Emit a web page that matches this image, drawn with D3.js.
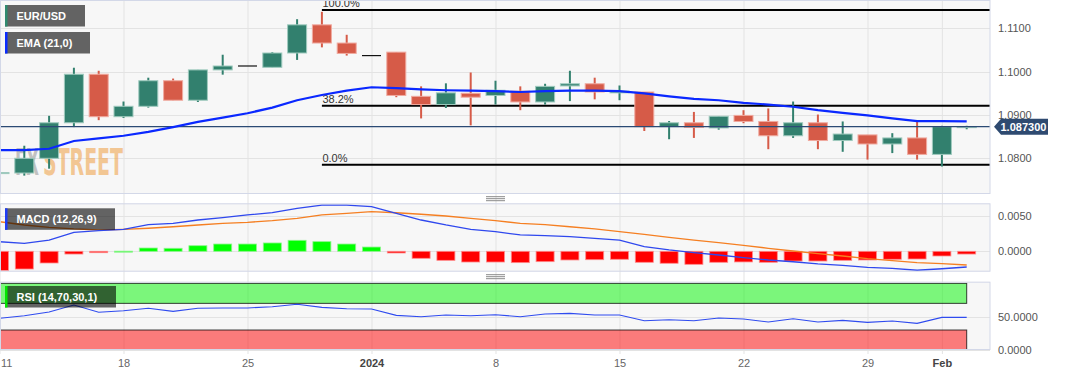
<!DOCTYPE html>
<html>
<head>
<meta charset="utf-8">
<script src="https://cdn.jsdelivr.net/npm/d3@7"></script>
<style>
  body { margin: 0; background: #fff; }
  svg { display: block; font-family: "Liberation Sans", Arial, sans-serif; }
</style>
</head>
<body>
<svg id="chart"></svg>
<script>
// trading days shown on the chart
const dates = [
  "2023-12-11","2023-12-12","2023-12-13","2023-12-14","2023-12-15",
  "2023-12-18","2023-12-19","2023-12-20","2023-12-21","2023-12-22",
  "2023-12-25","2023-12-26","2023-12-27","2023-12-28","2023-12-29",
  "2024-01-01","2024-01-02","2024-01-03","2024-01-04","2024-01-05",
  "2024-01-08","2024-01-09","2024-01-10","2024-01-11","2024-01-12",
  "2024-01-15","2024-01-16","2024-01-17","2024-01-18","2024-01-19",
  "2024-01-22","2024-01-23","2024-01-24","2024-01-25","2024-01-26",
  "2024-01-29","2024-01-30","2024-01-31","2024-02-01","2024-02-02"
];
const open  = [1.0766,1.0766,1.0800,1.0882,1.0994,1.0896,1.0920,1.0979,1.0934,1.1004,
               1.1013,1.1010,1.1043,1.1108,1.1066,1.1037,1.1045,1.0943,1.0924,1.0950,
               1.0945,1.0955,1.0930,1.0967,1.0972,1.0951,1.0953,1.0873,1.0882,1.0870,
               1.0899,1.0885,1.0852,1.0882,1.0841,1.0854,1.0833,1.0847,1.0809,1.0871];
const high  = [1.0778,1.0829,1.0898,1.1009,1.1002,1.0931,1.0986,1.0984,1.1004,1.1039,
               1.1013,1.1045,1.1121,1.1138,1.1085,1.1037,1.1045,1.0966,1.0973,1.0998,
               1.0979,1.0966,1.0972,1.1002,1.0986,1.0968,1.0953,1.0886,1.0907,1.0897,
               1.0911,1.0915,1.0931,1.0901,1.0885,1.0854,1.0858,1.0885,1.0875,1.0875];
const low   = [1.0757,1.0760,1.0776,1.0872,1.0888,1.0893,1.0917,1.0934,1.0930,1.0993,
               1.1013,1.1010,1.1027,1.1056,1.1037,1.1037,1.0941,1.0892,1.0916,1.0876,
               1.0924,1.0911,1.0924,1.0932,1.0936,1.0934,1.0863,1.0844,1.0847,1.0866,
               1.0881,1.0821,1.0847,1.0821,1.0815,1.0797,1.0812,1.0797,1.0781,1.0867];
const close = [1.0767,1.0800,1.0882,1.0994,1.0896,1.0920,1.0979,1.0934,1.1004,1.1013,
               1.1013,1.1043,1.1108,1.1066,1.1042,1.1037,1.0945,1.0924,1.0951,1.0941,
               1.0957,1.0930,1.0966,1.0972,1.0953,1.0955,1.0873,1.0882,1.0871,1.0897,
               1.0885,1.0852,1.0882,1.0841,1.0856,1.0833,1.0847,1.0809,1.0873,1.0873];
const ema21 = [1.0819,1.0819,1.0822,1.0840,1.0846,1.0852,1.0861,1.0872,1.0884,1.0894,
               1.0904,1.0917,1.0934,1.0946,1.0956,1.0964,1.0962,1.0959,1.0957,1.0956,
               1.0955,1.0953,1.0955,1.0956,1.0956,1.0955,1.0950,1.0943,1.0937,1.0934,
               1.0928,1.0924,1.0919,1.0911,1.0905,1.0899,1.0892,1.0886,1.0886,1.0885];
const macdLine   = [0.00137,0.00114,0.00161,0.00271,0.00294,0.00314,0.0038,0.004,0.00447,0.0048,
                    0.00519,0.00551,0.00614,0.00661,0.00661,0.00637,0.00543,0.00447,0.00376,0.00314,
                    0.0028,0.00235,0.00223,0.00209,0.00186,0.00161,0.00066,0.00019,-0.0002,-0.00053,
                    -0.00091,-0.00124,-0.00149,-0.00181,-0.002,-0.00229,-0.00243,-0.00271,-0.00249,-0.00224];
const signalLine = [0.00423,0.00376,0.00343,0.00319,0.00304,0.00314,0.00329,0.00351,0.00376,0.004,
                    0.00414,0.00437,0.00471,0.00519,0.00543,0.00566,0.00551,0.00529,0.00504,0.00471,
                    0.00437,0.004,0.0038,0.00351,0.00319,0.0028,0.00243,0.002,0.00161,0.00123,
                    0.00086,0.00043,0.00004,-0.00034,-0.00067,-0.00106,-0.00134,-0.00163,-0.00177,-0.00196];
const macdHist   = [-0.00276,-0.00253,-0.00167,-0.00039,-0.0002,0.00002,0.00047,0.00043,0.0008,0.00104,
                    0.00104,0.00119,0.00157,0.00138,0.00104,0.00061,-0.00024,-0.001,-0.00129,-0.00153,
                    -0.00153,-0.00162,-0.00148,-0.00124,-0.0012,-0.00114,-0.00157,-0.00171,-0.00186,-0.00157,
                    -0.00152,-0.00157,-0.00139,-0.00139,-0.00129,-0.00124,-0.00114,-0.0011,-0.00067,-0.00039];
const rsi14 = [47.6,51.5,57,67.5,56.6,59,62.6,58,62.6,63,
               63,65,68.6,64,62,61.5,52,50,52.5,51.5,
               53,50,54,55,52.5,52.5,44,45.5,44,48,
               46.5,42,47,42,44.5,41.5,43.5,40,49,49];

const dateTicks = ["2023-12-11","2023-12-18","2023-12-25","2024-01-01","2024-01-08",
                   "2024-01-15","2024-01-22","2024-01-29","2024-02-01"];
const dateTickLabels = ["11","18","25","2024","8","15","22","29","Feb"];
const boldTicks = ["2024","Feb"];
const priceTicks = [1.08, 1.09, 1.10, 1.11];
const macdTicks = [0, 0.005];
const rsiTicks = [0, 50];
const rsiZones = [[70, 100], [0, 30]];
const fibRatios = [1, 0.382, 0];
const fibLabels = ["100.0%", "38.2%", "0.0%"];
const fibHigh = 1.1142;
const fibLow = 1.0785;
const fibStart = "2023-12-28";
const lastPrice = 1.0873;

const width = 1067, height = 376;
const plotRight = 990;
const mainPanel = { top: 0, bottom: 194 };
const macdPanel = { top: 203.3, bottom: 271.7 };
const rsiPanel = { top: 281.7, bottom: 350 };

const upColor = "#32806e", downColor = "#d65b48";
const upEdge = "#9fcabe", downEdge = "#f0aaa0";
const gridColor = "#e3e3e3", borderColor = "#d3d8e8";

const svg = d3.select("#chart").attr("width", width).attr("height", height);

const x = d3.scalePoint().domain(dates).range([-0.5, 966.7]);
const yMain = d3.scaleLinear().domain([1.07176, 1.11653]).range([mainPanel.bottom, mainPanel.top]);
const yMacd = d3.scaleLinear().domain([-0.002914, 0.006857]).range([macdPanel.bottom, macdPanel.top]);
const yRsi = d3.scaleLinear().domain([0, 102.5]).range([rsiPanel.bottom, rsiPanel.top]);

const defs = svg.append("defs");
[["clip-main", mainPanel], ["clip-macd", macdPanel], ["clip-rsi", rsiPanel]].forEach(([id, p]) => {
  defs.append("clipPath").attr("id", id).append("rect")
    .attr("x", 0).attr("y", p.top).attr("width", plotRight).attr("height", p.bottom - p.top);
});

// panel backgrounds
[mainPanel, macdPanel, rsiPanel].forEach(p => {
  svg.append("rect")
    .attr("x", 0).attr("y", p.top).attr("width", plotRight).attr("height", p.bottom - p.top)
    .attr("fill", "#f7f7f7");
});

// vertical grid
svg.append("g").selectAll("line").data(dateTicks).enter().append("line")
  .attr("x1", d => x(d) + 0.5).attr("x2", d => x(d) + 0.5)
  .attr("y1", 0).attr("y2", 354)
  .attr("stroke", gridColor).attr("stroke-width", 1);

// horizontal grid
function hGrid(scale, ticks) {
  svg.append("g").selectAll("line").data(ticks).enter().append("line")
    .attr("x1", 0).attr("x2", plotRight)
    .attr("y1", d => Math.round(scale(d)) + 0.5).attr("y2", d => Math.round(scale(d)) + 0.5)
    .attr("stroke", gridColor).attr("stroke-width", 1);
}
hGrid(yMain, priceTicks);
hGrid(yMacd, macdTicks);
hGrid(yRsi, rsiTicks);

// ---------- main panel ----------
const main = svg.append("g").attr("clip-path", "url(#clip-main)");

// watermark
const wmFont = "'DejaVu Sans Condensed', 'DejaVu Sans', sans-serif";
main.append("text").attr("x", 15).attr("y", 175)
  .style("font-family", wmFont).style("font-weight", "bold").style("font-size", "38px")
  .attr("fill", "#8c8c8c").attr("fill-opacity", 0.5)
  .attr("textLength", 24).attr("lengthAdjust", "spacingAndGlyphs")
  .text("FX");
main.append("text").attr("x", 43).attr("y", 175)
  .style("font-family", wmFont).style("font-weight", "bold").style("font-size", "38px")
  .attr("fill", "#f0a550").attr("fill-opacity", 0.6)
  .attr("textLength", 80).attr("lengthAdjust", "spacingAndGlyphs")
  .text("STREET");

// fibonacci levels
const fibData = fibRatios.map((r, i) => ({ price: fibLow + r * (fibHigh - fibLow), label: fibLabels[i] }));
main.append("g").selectAll("line").data(fibData).enter().append("line")
  .attr("x1", x(fibStart)).attr("x2", plotRight)
  .attr("y1", d => yMain(d.price)).attr("y2", d => yMain(d.price))
  .attr("stroke", "#000").attr("stroke-width", 2);
main.append("g").selectAll("text").data(fibData).enter().append("text")
  .attr("x", x(fibStart) + 0.5).attr("y", d => yMain(d.price) - 3)
  .attr("fill", "#333").style("font-size", "11px")
  .text(d => d.label);

// candles
const candles = dates.map((d, i) => ({ date: d, o: open[i], h: high[i], l: low[i], c: close[i] }));
const bodyW = 19;
const cg = main.append("g");
cg.selectAll("line.wick").data(candles.filter(d => d.h !== d.l)).enter().append("line")
  .attr("class", "wick")
  .attr("x1", d => x(d.date)).attr("x2", d => x(d.date))
  .attr("y1", d => yMain(d.h)).attr("y2", d => yMain(d.l))
  .attr("stroke", d => d.c >= d.o ? upColor : downColor).attr("stroke-width", 2);
cg.selectAll("rect").data(candles.filter(d => d.h !== d.l)).enter().append("rect")
  .attr("x", d => x(d.date) - bodyW / 2)
  .attr("width", bodyW)
  .attr("y", d => yMain(Math.max(d.o, d.c)))
  .attr("height", d => Math.max(1, Math.abs(yMain(d.o) - yMain(d.c))))
  .attr("fill", d => d.c >= d.o ? upColor : downColor)
  .attr("stroke", d => d.c >= d.o ? upEdge : downEdge).attr("stroke-width", 1);
cg.selectAll("line.flat").data(candles.filter(d => d.h === d.l)).enter().append("line")
  .attr("class", "flat")
  .attr("x1", d => x(d.date) - bodyW / 2).attr("x2", d => x(d.date) + bodyW / 2)
  .attr("y1", d => yMain(d.c)).attr("y2", d => yMain(d.c))
  .attr("stroke", "#111").attr("stroke-width", 1.2);

// last price line
main.append("line")
  .attr("x1", 0).attr("x2", plotRight)
  .attr("y1", yMain(lastPrice)).attr("y2", yMain(lastPrice))
  .attr("stroke", "#2b4a74").attr("stroke-width", 1.1);

// EMA
main.append("path")
  .datum(dates.map((d, i) => [d, ema21[i]]))
  .attr("fill", "none").attr("stroke", "#0a28ff").attr("stroke-width", 2.2)
  .attr("d", d3.line().x(d => x(d[0])).y(d => yMain(d[1])));

// ---------- MACD panel ----------
const macdG = svg.append("g").attr("clip-path", "url(#clip-macd)");
macdG.selectAll("rect").data(dates.map((d, i) => ({ date: d, v: macdHist[i] }))).enter().append("rect")
  .attr("x", d => x(d.date) - 9)
  .attr("width", 18)
  .attr("y", d => d.v >= 0 ? yMacd(d.v) : yMacd(0))
  .attr("height", d => Math.max(1, Math.abs(yMacd(d.v) - yMacd(0))))
  .attr("fill", d => d.v >= 0 ? "#00ff00" : "#ff0000")
  .attr("stroke", d => d.v >= 0 ? "#8cf58c" : "#ff8a8a").attr("stroke-width", 0.8);
macdG.append("path")
  .datum(dates.map((d, i) => [d, signalLine[i]]))
  .attr("fill", "none").attr("stroke", "#f57f22").attr("stroke-width", 1.3)
  .attr("d", d3.line().x(d => x(d[0])).y(d => yMacd(d[1])));
macdG.append("path")
  .datum(dates.map((d, i) => [d, macdLine[i]]))
  .attr("fill", "none").attr("stroke", "#2f48ee").attr("stroke-width", 1.3)
  .attr("d", d3.line().x(d => x(d[0])).y(d => yMacd(d[1])));

// ---------- RSI panel ----------
const rsiG = svg.append("g").attr("clip-path", "url(#clip-rsi)");
rsiG.selectAll("rect").data(rsiZones).enter().append("rect")
  .attr("x", x(dates[0]))
  .attr("width", x(dates[dates.length - 1]) - x(dates[0]))
  .attr("y", d => yRsi(d[1]))
  .attr("height", d => yRsi(d[0]) - yRsi(d[1]))
  .attr("fill", (d, i) => i === 0 ? "rgba(0,245,0,0.5)" : "rgba(255,0,0,0.5)")
  .attr("stroke", "rgba(0,0,0,0.75)").attr("stroke-width", 1);
rsiG.append("path")
  .datum(dates.map((d, i) => [d, rsi14[i]]))
  .attr("fill", "none").attr("stroke", "#2f4bef").attr("stroke-width", 1.1)
  .attr("d", d3.line().x(d => x(d[0])).y(d => yRsi(d[1])));

// panel borders
[mainPanel, macdPanel, rsiPanel].forEach(p => {
  svg.append("rect")
    .attr("x", 0.5).attr("y", p.top + 0.5).attr("width", plotRight - 0.5).attr("height", p.bottom - p.top - 1)
    .attr("fill", "none").attr("stroke", borderColor).attr("stroke-width", 1);
});

// resize handles
[198.7, 276.7].forEach(cy => {
  svg.append("g").selectAll("line").data([-2, 0, 2]).enter().append("line")
    .attr("x1", 486).attr("x2", 505)
    .attr("y1", d => cy + d).attr("y2", d => cy + d)
    .attr("stroke", "#8a8a8a").attr("stroke-width", 1);
});

// legend boxes
const legends = [
  { text: "EUR/USD", color: "#2f8a6f", y: 5, w: 80 },
  { text: "EMA (21,0)", color: "#0a2cff", y: 32, w: 85 },
  { text: "MACD (12,26,9)", color: "#1f3df5", y: 208.3, w: 110 },
  { text: "RSI (14,70,30,1)", color: "#00e600", y: 286, w: 111 }
];
const lg = svg.append("g").selectAll("g").data(legends).enter().append("g");
lg.append("rect").attr("x", 5).attr("y", d => d.y).attr("width", d => d.w).attr("height", 21.5)
  .attr("fill", "rgba(0,0,0,0.6)");
lg.append("rect").attr("x", 5).attr("y", d => d.y).attr("width", 2.5).attr("height", 21.5)
  .attr("fill", d => d.color);
lg.append("text").attr("x", 16.5).attr("y", d => d.y + 15)
  .attr("fill", "#fff").style("font-size", "11px").style("font-weight", "bold")
  .text(d => d.text);

// right axes
function rightAxis(scale, ticks, fmt) {
  const g = svg.append("g").attr("transform", `translate(${plotRight},0)`)
    .call(d3.axisRight(scale).tickValues(ticks).tickFormat(fmt).tickSize(0).tickPadding(8));
  g.select(".domain").remove();
  g.selectAll("text").attr("fill", "#555").style("font-size", "11px")
    .style("font-family", "'Liberation Sans', Arial, sans-serif");
}
rightAxis(yMain, priceTicks, d3.format(".4f"));
rightAxis(yMacd, macdTicks, d3.format(".4f"));
rightAxis(yRsi, rsiTicks, d3.format(".4f"));

// last price tag
const yp = yMain(lastPrice);
svg.append("path")
  .attr("d", `M994,${yp} L1001,${yp - 8} L1048,${yp - 8} L1048,${yp + 8} L1001,${yp + 8} Z`)
  .attr("fill", "#2e4a70");
svg.append("text").attr("x", 1000.5).attr("y", yp + 4)
  .attr("fill", "#fff").style("font-size", "11px").style("font-weight", "bold")
  .text(d3.format(".6f")(lastPrice));

// date axis
const xAxis = svg.append("g").attr("transform", `translate(0,${rsiPanel.bottom})`)
  .call(d3.axisBottom(x).tickValues(dateTicks)
    .tickFormat(d => dateTickLabels[dateTicks.indexOf(d)]).tickSize(0).tickPadding(9));
xAxis.select(".domain").remove();
xAxis.selectAll("text")
  .style("font-size", "11px")
  .style("font-family", "'Liberation Sans', Arial, sans-serif")
  .attr("fill", d => boldTicks.includes(dateTickLabels[dateTicks.indexOf(d)]) ? "#444" : "#666")
  .style("font-weight", d => boldTicks.includes(dateTickLabels[dateTicks.indexOf(d)]) ? "bold" : "normal");
xAxis.selectAll("text").filter(d => d === dateTicks[0])
  .attr("text-anchor", "start").attr("x", 1);
</script>
</body>
</html>
